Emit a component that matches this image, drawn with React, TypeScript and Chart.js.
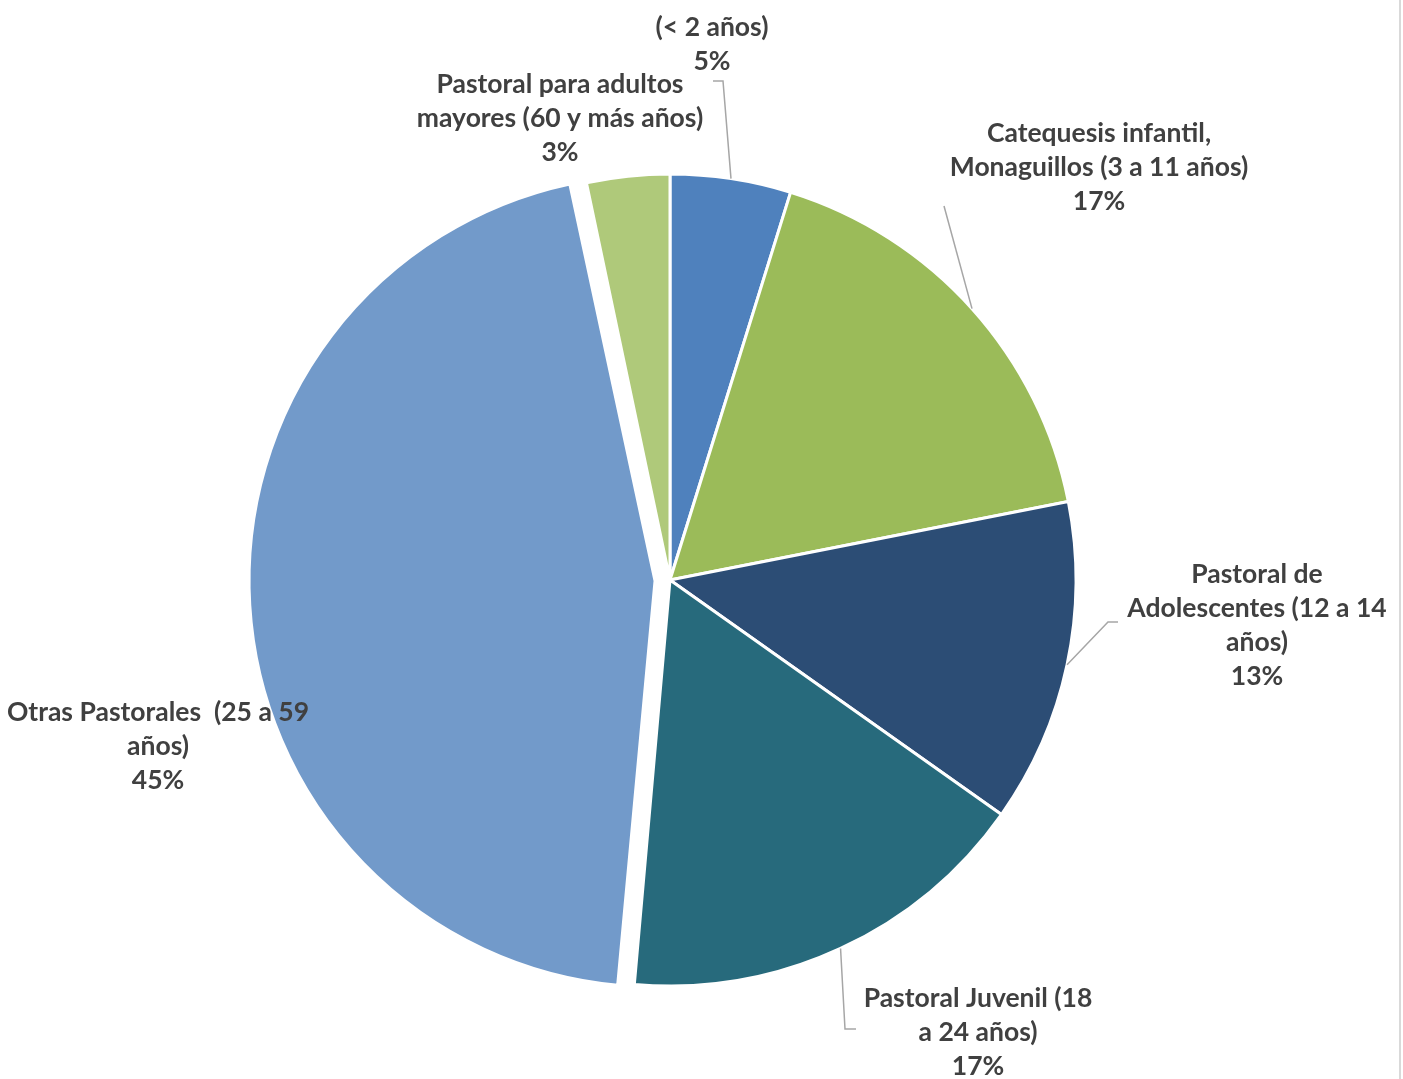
import { Chart, registerables } from 'chart.js'
import type { Plugin } from 'chart.js'
import { useEffect, useRef } from 'react'

Chart.register(...registerables)

// categories, one line per array entry
const categories: string[][] = [
  ['(< 2 años)'],
  ['Catequesis infantil,', 'Monaguillos (3 a 11 años)'],
  ['Pastoral de', 'Adolescentes (12 a 14', 'años)'],
  ['Pastoral Juvenil (18', 'a 24 años)'],
  ['Otras Pastorales  (25 a 59', 'años)'],
  ['Pastoral para adultos', 'mayores (60 y más años)'],
]

// share of each group (percent)
const shares = [4.8, 17.1, 12.9, 16.6, 45.3, 3.3]

const sliceColors = ['#4F81BD', '#9BBB59', '#2C4D75', '#276A7C', '#729ACA', '#AFC97A']

// exploded slice offsets (Chart.js moves an arc by offset / 4 pixels)
const sliceOffsets = [0, 0, 0, 0, 60, 0]

// label block centre relative to the pie centre, plus optional leader line (knee, end)
const labelLayout = [
  { dx: 42, dy: -536, leader: [[53, -499], [43, -499]] },
  { dx: 429, dy: -413, leader: [[274, -374], [274, -374]] },
  { dx: 587, dy: 45, leader: [[438, 42], [448, 42]] },
  { dx: 308, dy: 452, leader: [[175, 449], [186, 449]] },
  { dx: -512, dy: 166, leader: null },
  { dx: -110, dy: -462, leader: null },
]

const LINE_H = 34

// Chart.js also grows an offset arc's radius; keep exploded slices at the pie radius
const keepRadius: Plugin<'pie'> = {
  id: 'keepRadius',
  beforeDatasetsDraw(chart) {
    const meta = chart.getDatasetMeta(0)
    const base = (meta.controller as any).outerRadius
    meta.data.forEach((el: any, i) => {
      const off = sliceOffsets[i] / 4
      if (!off) return
      const fix = 1 - Math.sin(Math.min(Math.PI, el.circumference || 0))
      el.outerRadius = base - off * fix
    })
  },
}

const outsideLabels: Plugin<'pie'> = {
  id: 'outsideLabels',
  afterDatasetsDraw(chart) {
    const ctx = chart.ctx
    const meta = chart.getDatasetMeta(0)
    const total = shares.reduce((a, b) => a + b, 0)
    ctx.save()
    meta.data.forEach((el: any, i) => {
      const lay = labelLayout[i]
      const { x: cx0, y: cy0, startAngle, endAngle, outerRadius } = el.getProps(
        ['x', 'y', 'startAngle', 'endAngle', 'outerRadius'],
        true
      )
      const cx = chart.chartArea.left + chart.chartArea.width / 2
      const cy = chart.chartArea.top + chart.chartArea.height / 2
      if (lay.leader) {
        const mid = (startAngle + endAngle) / 2
        ctx.beginPath()
        ctx.strokeStyle = '#A6A6A6'
        ctx.lineWidth = 1.5
        ctx.moveTo(cx0 + Math.cos(mid) * outerRadius, cy0 + Math.sin(mid) * outerRadius)
        ctx.lineTo(cx + lay.leader[0][0], cy + lay.leader[0][1])
        ctx.lineTo(cx + lay.leader[1][0], cy + lay.leader[1][1])
        ctx.stroke()
      }
      const lines = [...categories[i], Math.round((shares[i] / total) * 100) + '%']
      ctx.fillStyle = '#404040'
      ctx.font = 'bold 26.5px Lato'
      ctx.textAlign = 'center'
      ctx.textBaseline = 'middle'
      const top = cy + lay.dy - ((lines.length - 1) * LINE_H) / 2
      lines.forEach((t, k) => ctx.fillText(t, cx + lay.dx, top + k * LINE_H))
    })
    // chart frame edge on the right
    ctx.fillStyle = '#D9D9D9'
    ctx.fillRect(chart.width - 4, 0, 2, chart.height)
    ctx.restore()
  },
}

export default function App() {
  const canvasRef = useRef<HTMLCanvasElement>(null)
  const chartRef = useRef<Chart<'pie'> | null>(null)

  useEffect(() => {
    if (!canvasRef.current) return
    if (chartRef.current) chartRef.current.destroy()

    chartRef.current = new Chart(canvasRef.current, {
      type: 'pie',
      data: {
        labels: categories.map((c) => c.join(' ')),
        datasets: [
          {
            data: shares,
            backgroundColor: sliceColors,
            borderColor: '#FFFFFF',
            borderWidth: 3,
            offset: sliceOffsets,
          },
        ],
      },
      options: {
        animation: false,
        responsive: true,
        maintainAspectRatio: false,
        radius: 406,
        layout: { padding: { left: 0, right: 63, top: 81, bottom: 0 } },
        plugins: {
          legend: { display: false },
          tooltip: { enabled: false },
        },
      },
      plugins: [keepRadius, outsideLabels],
    })

    return () => {
      if (chartRef.current) {
        chartRef.current.destroy()
        chartRef.current = null
      }
    }
  }, [])

  return (
    <div style={{ position: 'fixed', left: 0, top: 0, width: '1403px', height: '1079px', background: '#fff' }}>
      <canvas ref={canvasRef}></canvas>
    </div>
  )
}
